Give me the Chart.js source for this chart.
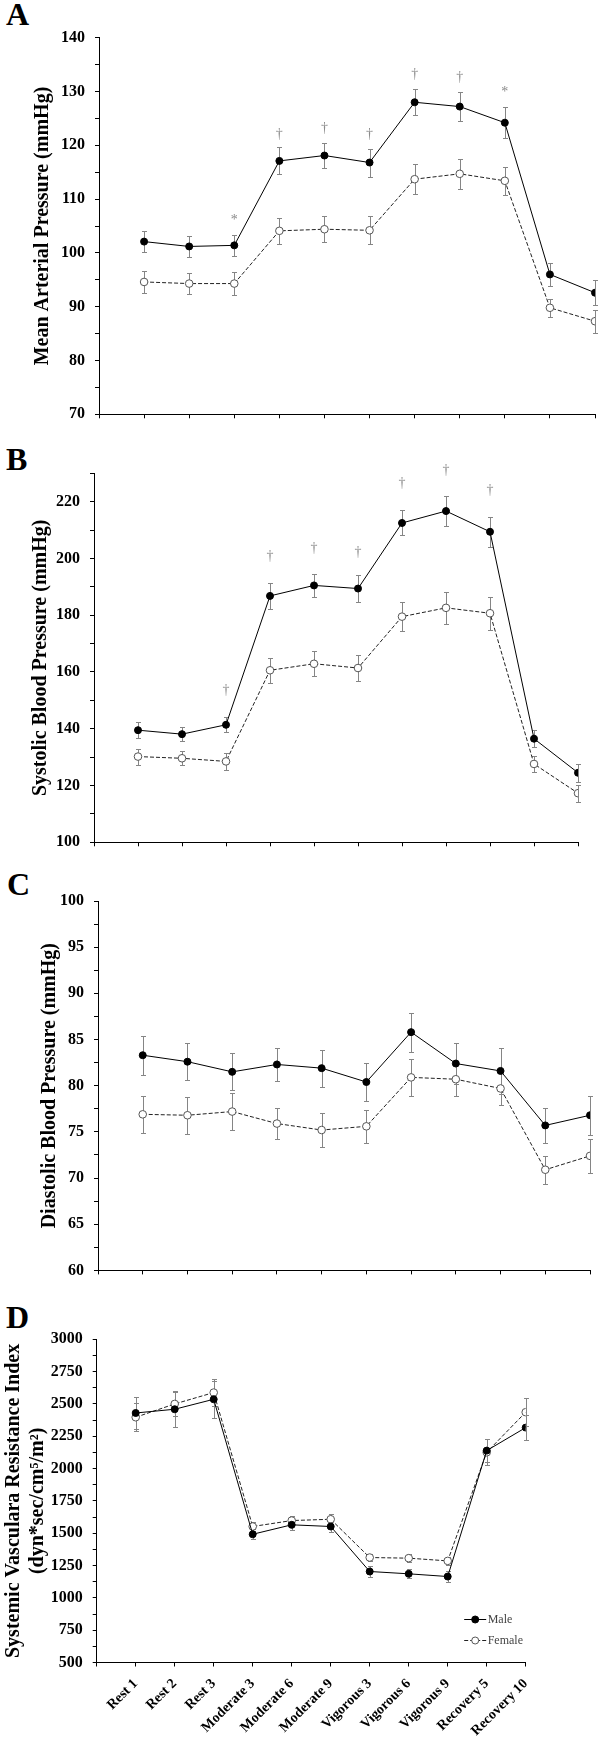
<!DOCTYPE html>
<html><head><meta charset="utf-8">
<script src="https://cdn.jsdelivr.net/npm/chart.js@4.4.1/dist/chart.umd.min.js"></script>
<style>
html,body{margin:0;padding:0;background:#fff;}
body{width:600px;height:1740px;position:relative;overflow:hidden;}
canvas{position:absolute;left:0;}
.lt{position:absolute;font:bold 32px/32px 'Liberation Serif','Times New Roman',serif;color:#000;}
</style></head><body>
<div class="lt" style="left:6px;top:-1.6px">A</div>
<div class="lt" style="left:6px;top:442.7px">B</div>
<div class="lt" style="left:7px;top:868.4px">C</div>
<div class="lt" style="left:6px;top:1301px">D</div>
<canvas id="cA" width="600" height="440" style="top:0px"></canvas>
<canvas id="cB" width="600" height="430" style="top:440px"></canvas>
<canvas id="cC" width="600" height="420" style="top:870px"></canvas>
<canvas id="cD" width="600" height="450" style="top:1290px"></canvas>
<script>
// ---------- data ----------
const categories = ['Rest 1','Rest 2','Rest 3','Moderate 3','Moderate 6','Moderate 9','Vigorous 3','Vigorous 6','Vigorous 9','Recovery 5','Recovery 10'];
const seriesNames = ['Male','Female'];

// A: Mean arterial pressure
const mapMale      = [102.1,101.2,101.4,117.1,118.1,116.8,128.0,127.2,124.2,96.0,92.6];
const mapMaleErr   = [1.9,1.9,1.9,2.5,2.3,2.6,2.4,2.7,2.9,2.1,2.3];
const mapFemale    = [94.6,94.3,94.3,104.1,104.4,104.2,113.7,114.7,113.4,89.8,87.3];
const mapFemaleErr = [2.0,2.0,2.1,2.4,2.4,2.6,2.8,2.8,2.6,1.7,2.1];
const mapSigSymbols = ['','','*','\u2020','\u2020','\u2020','\u2020','\u2020','*','',''];
const mapSigValues  = [null,null,106.5,122.0,123.2,122.0,133.2,132.7,130.2,null,null];
const mapTickLabels = [70,80,90,100,110,120,130,140];

// B: Systolic blood pressure
const sbpMale      = [139.5,138.1,141.4,186.8,190.5,189.4,212.5,216.7,209.4,136.5,124.5];
const sbpMaleErr   = [2.8,2.5,2.7,4.7,4.0,4.7,4.4,5.2,5.2,3.0,3.2];
const sbpFemale    = [130.2,129.6,128.5,160.6,162.9,161.4,179.5,182.6,180.7,127.6,117.3];
const sbpFemaleErr = [2.8,2.5,3.0,4.5,4.4,4.5,5.2,5.6,5.8,2.8,3.0];
const sbpSigSymbols = ['','','\u2020','\u2020','\u2020','\u2020','\u2020','\u2020','\u2020','',''];
const sbpSigValues  = [null,null,153.5,200.6,203.5,202.0,226.5,231.2,224.0,null,null];
const sbpTickLabels = [100,120,140,160,180,200,220];

// C: Diastolic blood pressure
const dbpMale      = [83.3,82.6,81.5,82.3,81.9,80.4,85.8,82.4,81.6,75.7,76.8];
const dbpMaleErr   = [2.1,2.0,2.0,1.8,2.0,2.1,2.1,2.2,2.5,1.9,2.1];
const dbpFemale    = [76.9,76.8,77.2,75.9,75.2,75.6,80.9,80.7,79.7,70.9,72.4];
const dbpFemaleErr = [2.0,2.0,2.05,1.7,1.8,1.8,2.0,1.8,1.8,1.5,1.85];
const dbpTickLabels = [60,65,70,75,80,85,90,95,100];

// D: Systemic vascular resistance index
const svriMale      = [2430,2459,2536,1492,1565,1552,1204,1186,1165,2139,2317];
const svriMaleErr   = [125,140,145,40,40,45,40,35,40,90,95];
const svriFemale    = [2397,2500,2588,1552,1598,1608,1312,1307,1286,2126,2436];
const svriFemaleErr = [110,95,105,35,35,40,30,30,30,100,110];
const svriTickLabels = [500,750,1000,1250,1500,1750,2000,2250,2500,2750,3000];

// ---------- rendering ----------
const FONT = "'Liberation Serif','Times New Roman',serif";
Chart.defaults.font.family = FONT;
Chart.defaults.color = '#000';

const errorBarPlugin = {
  id: 'errorBars',
  beforeDatasetsDraw(chart) {
    const {ctx, scales: {x, y}} = chart;
    ctx.save();
    ctx.strokeStyle = '#858585';
    ctx.lineWidth = 1;
    chart.data.datasets.forEach(ds => {
      const errs = ds.errorBars; if (!errs) return;
      ds.data.forEach((p, i) => {
        const px = Math.round(x.getPixelForValue(p.x)) + 0.5;
        const yt = Math.round(y.getPixelForValue(p.y + errs[i])) + 0.5;
        const yb = Math.round(y.getPixelForValue(p.y - errs[i])) + 0.5;
        ctx.beginPath();
        ctx.moveTo(px, yt); ctx.lineTo(px, yb);
        ctx.moveTo(px - 2.5, yt); ctx.lineTo(px + 2.5, yt);
        ctx.moveTo(px - 2.5, yb); ctx.lineTo(px + 2.5, yb);
        ctx.stroke();
      });
    });
    ctx.restore();
  }
};

const sigPlugin = {
  id: 'sigMarks',
  afterDatasetsDraw(chart, args, opts) {
    const syms = opts.symbols || [], vals = opts.values || [];
    const {ctx, scales: {x, y}} = chart;
    ctx.save();
    ctx.fillStyle = '#8a8a8a';
    ctx.font = '14px ' + FONT;
    ctx.textAlign = 'center';
    ctx.textBaseline = 'middle';
    syms.forEach((s, i) => {
      if (!s) return;
      const yy = y.getPixelForValue(vals[i]) + (s === '*' ? 2 : 0);
      ctx.fillText(s, x.getPixelForValue(i + 1), yy);
    });
    ctx.restore();
  }
};

const legendPlugin = {
  id: 'svLegend',
  afterDraw(chart, args, opts) {
    if (!opts.show) return;
    const {ctx, chartArea: a} = chart;
    ctx.save();
    chart.data.datasets.forEach((ds, i) => {
      const yy = Math.round(a.bottom - 43.5 + i * 21) + 0.5;
      const x1 = a.right - 61.5, x2 = a.right - 39.5, xc = (x1 + x2) / 2;
      ctx.strokeStyle = ds.borderColor; ctx.lineWidth = 1;
      ctx.setLineDash(ds.borderDash || []);
      ctx.beginPath(); ctx.moveTo(x1, yy); ctx.lineTo(x2, yy); ctx.stroke();
      ctx.setLineDash([]);
      ctx.beginPath(); ctx.arc(xc, yy, 3.5, 0, Math.PI * 2);
      ctx.fillStyle = ds.pointBackgroundColor; ctx.fill();
      ctx.strokeStyle = ds.pointBorderColor; ctx.stroke();
      ctx.fillStyle = '#444';
      ctx.font = '12px ' + FONT;
      ctx.textAlign = 'left'; ctx.textBaseline = 'middle';
      ctx.fillText(ds.label, a.right - 38, yy + 0.5);
    });
    ctx.restore();
  }
};

function buildChart(id, p) {
  const pts = arr => arr.map((v, i) => ({x: i + 1, y: v}));
  const gridOpts = {display: true, drawOnChartArea: false, drawTicks: true, tickLength: 4, color: '#000', lineWidth: 1};
  const borderOpts = {display: true, color: '#000', width: 1};
  return new Chart(document.getElementById(id), {
    type: 'line',
    data: {datasets: [
      {label: seriesNames[0], data: pts(p.male), errorBars: p.maleErr, borderColor: '#000', borderWidth: 1,
       pointRadius: 3.5, pointBackgroundColor: '#000', pointBorderColor: '#000', pointBorderWidth: 1, tension: 0, fill: false},
      {label: seriesNames[1], data: pts(p.female), errorBars: p.femaleErr, borderColor: '#222', borderWidth: 1, borderDash: [4, 2],
       pointRadius: 3.8, pointBackgroundColor: '#fff', pointBorderColor: '#555', pointBorderWidth: 1, tension: 0, fill: false}
    ]},
    options: {
      responsive: false, animation: false, events: [],
      layout: {padding: {left: 0, right: 600 - p.right, top: p.top - p.canvasTop, bottom: p.canvasTop + p.height - p.bottom - p.xH}},
      plugins: {
        legend: {display: false}, tooltip: {enabled: false},
        sigMarks: {symbols: p.sigSym || [], values: p.sigVal || []},
        svLegend: {show: !!p.legend}
      },
      scales: {
        x: {
          type: 'linear', min: 0, max: categories.length,
          afterFit(s) { s.height = p.xH; s.paddingLeft = 0; s.paddingRight = 0; },
          ticks: {display: !!p.showX, stepSize: 1, autoSkip: false, maxRotation: 45, minRotation: 45, padding: 9,
                  font: {size: 14, weight: 'bold', family: FONT}, color: '#000',
                  callback: v => categories[v - 1] || ''},
          grid: gridOpts, border: borderOpts
        },
        y: {
          type: 'linear', min: p.yMin, max: p.yMax,
          afterFit(s) { s.width = p.left; },
          ticks: {stepSize: p.yStep, autoSkip: false, padding: 10, font: {size: 16, weight: 'bold', family: FONT}, color: '#000',
                  callback: v => p.yLabels.some(l => Math.abs(l - v) < 1e-6) ? String(v) : ''},
          grid: gridOpts, border: borderOpts,
          title: {display: true, text: p.title, color: '#000', font: {size: 20, weight: 'bold', family: FONT, lineHeight: 1.2},
                  padding: {top: p.titlePad, bottom: 0}}
        }
      }
    },
    plugins: [errorBarPlugin, sigPlugin, legendPlugin]
  });
}

buildChart('cA', {canvasTop: 0, height: 440, left: 99, right: 595, top: 37.7, bottom: 414.3, xH: 10,
  yMin: 70, yMax: 140, yStep: 5, yLabels: mapTickLabels, title: 'Mean Arterial Pressure (mmHg)', titlePad: 31,
  male: mapMale, maleErr: mapMaleErr, female: mapFemale, femaleErr: mapFemaleErr, sigSym: mapSigSymbols, sigVal: mapSigValues});

buildChart('cB', {canvasTop: 440, height: 430, left: 94, right: 578, top: 473.3, bottom: 842.3, xH: 10,
  yMin: 100, yMax: 230, yStep: 10, yLabels: sbpTickLabels, title: 'Systolic Blood Pressure (mmHg)', titlePad: 29,
  male: sbpMale, maleErr: sbpMaleErr, female: sbpFemale, femaleErr: sbpFemaleErr, sigSym: sbpSigSymbols, sigVal: sbpSigValues});

buildChart('cC', {canvasTop: 870, height: 420, left: 98, right: 590, top: 901, bottom: 1277.8, xH: 10,
  yMin: 60, yMax: 100, yStep: 2.5, yLabels: dbpTickLabels, title: 'Diastolic Blood Pressure (mmHg)', titlePad: 38,
  male: dbpMale, maleErr: dbpMaleErr, female: dbpFemale, femaleErr: dbpFemaleErr});

buildChart('cD', {canvasTop: 1290, height: 450, left: 96.7, right: 525.7, top: 1339.3, bottom: 1662.5, xH: 77.5, showX: true, legend: true,
  yMin: 500, yMax: 3000, yStep: 125, yLabels: svriTickLabels,
  title: ['Systemic Vasculara Resistance Index', '(dyn*sec/cm\u2075/m\u00B2)'], titlePad: 2,
  male: svriMale, maleErr: svriMaleErr, female: svriFemale, femaleErr: svriFemaleErr});
</script>
</body></html>
